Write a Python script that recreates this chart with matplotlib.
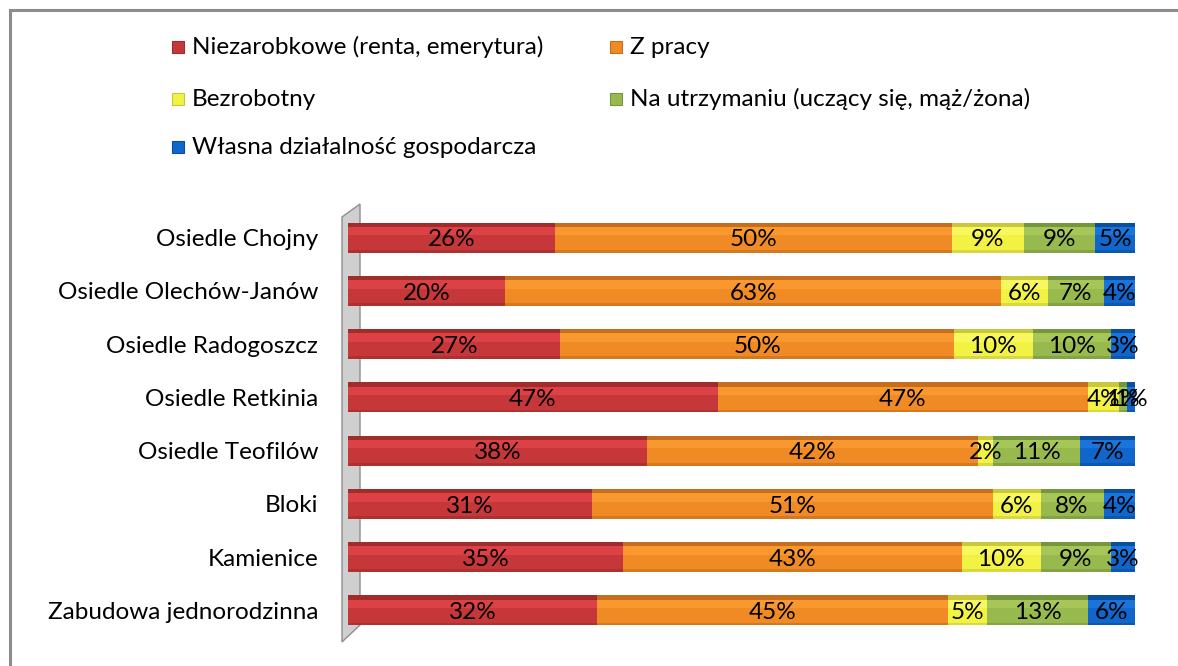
import matplotlib
matplotlib.use("Agg")
import matplotlib.pyplot as plt
import numpy as np
from matplotlib.patches import Rectangle, Polygon
from matplotlib.lines import Line2D

categories = ["Osiedle Chojny", "Osiedle Olechów-Janów", "Osiedle Radogoszcz",
              "Osiedle Retkinia", "Osiedle Teofilów", "Bloki", "Kamienice",
              "Zabudowa jednorodzinna"]
series_names = ["Niezarobkowe (renta, emerytura)", "Z pracy", "Bezrobotny",
                "Na utrzymaniu (uczący się, mąż/żona)", "Własna działalność gospodarcza"]
niezarobkowe = [26, 20, 27, 47, 38, 31, 35, 32]
z_pracy = [50, 63, 50, 47, 42, 51, 43, 45]
bezrobotny = [9, 6, 10, 4, 2, 6, 10, 5]
na_utrzymaniu = [9, 7, 10, 1, 11, 8, 9, 13]
wlasna = [5, 4, 3, 1, 7, 4, 3, 6]

series = [niezarobkowe, z_pracy, bezrobotny, na_utrzymaniu, wlasna]
mid_colors = ["#C6373A", "#F08A24", "#F2F244", "#98B94E", "#1166CC"]
hi_colors = ["#DC4245", "#F8982E", "#F8F85E", "#A6C757", "#1974DC"]
top_colors = ["#A02C2C", "#C46E1E", "#C8C83C", "#76963E", "#0A4E9E"]

plt.rcParams['font.family'] = ['Lato', 'DejaVu Sans']
FS = 17.5

W, H = 1178, 666
fig = plt.figure(figsize=(W / 100, H / 100), dpi=100)

def fx(px):
    return px / W

def fy(py):
    return 1 - py / H

# frame (cropped at right and bottom)
fig.add_artist(Line2D([fx(10), fx(1178)], [fy(10), fy(10)], color="#8C8C8C", lw=2.2, zorder=-2))
fig.add_artist(Line2D([fx(10), fx(10)], [fy(10), fy(666)], color="#8C8C8C", lw=2.2, zorder=-2))

# 3D wall behind the bars
wall = Polygon([(fx(342), fy(217)), (fx(360), fy(204)), (fx(360), fy(625)), (fx(342), fy(642))],
               closed=True, facecolor="#CFCFCF", edgecolor="#8E8E8E", lw=1.0, zorder=-1)
fig.add_artist(wall)

left, right = 348, 1135
top_px, bot_px = 211, 637
ax = fig.add_axes([fx(left), fy(bot_px), fx(right) - fx(left), fy(top_px) - fy(bot_px)])
ax.patch.set_alpha(0)

vals = np.array(series, dtype=float)
totals = vals.sum(axis=0)
fracs = vals / totals
y = np.arange(len(categories))
bh = 0.56
cum = np.zeros(len(categories))
for i in range(len(series)):
    w = fracs[i]
    ax.barh(y, w, left=cum, height=bh, color=mid_colors[i], edgecolor="none", zorder=2)
    ax.barh(y - bh / 2 + 0.16, w, left=cum, height=0.16, color=hi_colors[i], edgecolor="none", zorder=3)
    ax.barh(y - bh / 2 + 0.04, w, left=cum, height=0.08, color=top_colors[i], edgecolor="none", zorder=4)
    ax.barh(y + bh / 2 - 0.025, w, left=cum, height=0.05, color=top_colors[i], edgecolor="none", zorder=4, alpha=0.6)
    for j in range(len(categories)):
        ax.text(cum[j] + w[j] / 2, y[j] + 0.04, f"{series[i][j]}%", ha="center", va="center",
                fontsize=FS, color="black", zorder=6)
    cum += w

ax.set_xlim(0, 1)
ax.set_ylim(len(categories) - 0.5, -0.5)
ax.set_yticks(y)
ax.set_yticklabels(categories, fontsize=FS)
ax.tick_params(axis="y", length=0, pad=21.6)
ax.set_xticks([])
for s in ax.spines.values():
    s.set_visible(False)

# legend (row-major, two columns)
positions = [(178, 47), (616, 47), (178, 99), (616, 99), (178, 147)]
for i, name in enumerate(series_names):
    px, py = positions[i]
    fig.add_artist(Rectangle((fx(px - 6), fy(py + 6)), fx(12), 12 / H,
                             facecolor=mid_colors[i], edgecolor=top_colors[i], lw=0.8))
    fig.text(fx(px + 14), fy(py), name, ha="left", va="center", fontsize=FS, color="black")

fig.savefig("out.png", dpi=100)
